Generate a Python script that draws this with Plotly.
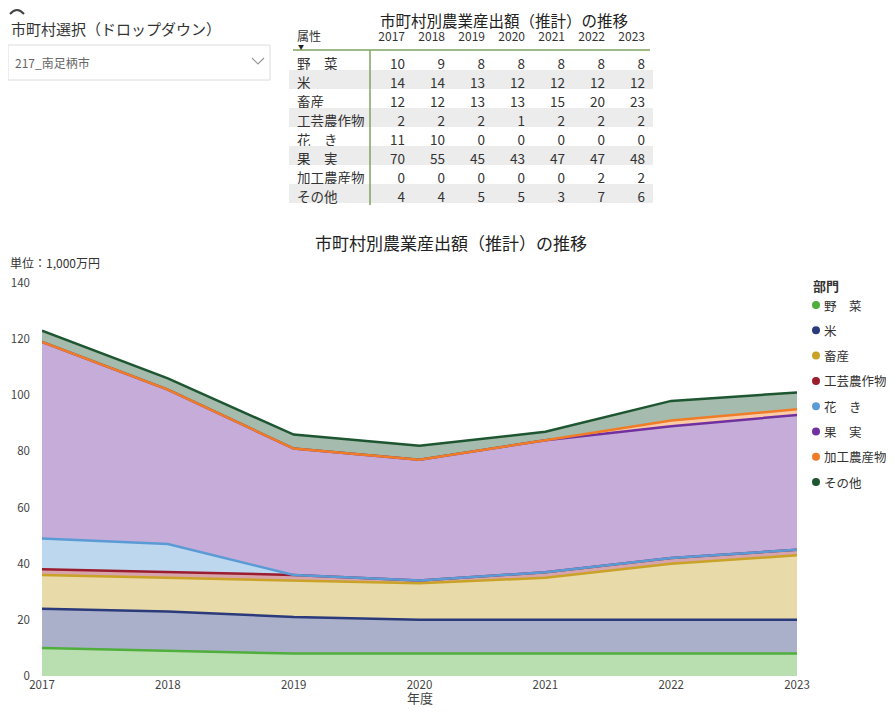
import plotly.graph_objects as go

# --- data (値は参照画像の表から) ---
years = [2017, 2018, 2019, 2020, 2021, 2022, 2023]
categories = ["野　菜", "米", "畜産", "工芸農作物", "花　き", "果　実", "加工農産物", "その他"]

yasai = [10, 9, 8, 8, 8, 8, 8]
kome = [14, 14, 13, 12, 12, 12, 12]
chikusan = [12, 12, 13, 13, 15, 20, 23]
kougei = [2, 2, 2, 1, 2, 2, 2]
kaki = [11, 10, 0, 0, 0, 0, 0]
kajitsu = [70, 55, 45, 43, 47, 47, 48]
kakou = [0, 0, 0, 0, 0, 2, 2]
sonota = [4, 4, 5, 5, 3, 7, 6]

series = [yasai, kome, chikusan, kougei, kaki, kajitsu, kakou, sonota]
colors = ["#4fae3c", "#2b3a7a", "#c9a227", "#9b1c2e", "#5b9bd5", "#7030a0", "#f07c28", "#1e5631"]

city = "217_南足柄市"

# page body has an 8px margin, so the figure is a bit smaller and offset
OFF = 8
W, H = 894 - 2 * OFF, 716 - 2 * OFF
FONT = "Noto Sans CJK JP, Noto Sans, sans-serif"


def fx(p):
    return (p - OFF) / W


def fy(p):
    return 1 - (p - OFF) / H


def rgba(hexc, a):
    h = hexc.lstrip("#")
    r, g, b = int(h[0:2], 16), int(h[2:4], 16), int(h[4:6], 16)
    return f"rgba({r},{g},{b},{a})"


fig = go.Figure()

# stacked areas
for name, vals, col in zip(categories, series, colors):
    fig.add_trace(go.Scatter(
        x=years, y=vals, name=name, stackgroup="one", mode="lines",
        line=dict(color=col, width=2.5), fillcolor=rgba(col, 0.4),
        showlegend=False,
    ))

# table
row_fill = ["white" if i % 2 == 0 else "#ececec" for i in range(len(categories))]
table_cols = [categories] + [[s[j] for s in series] for j in range(len(years))]
fig.add_trace(go.Table(
    domain=dict(x=[fx(289), fx(653)], y=[fy(215), fy(24)]),
    columnwidth=[84] + [40] * len(years),
    header=dict(
        values=["属性"] + [str(y) for y in years],
        align=["left"] + ["right"] * len(years),
        height=27,
        fill=dict(color="white"),
        line=dict(color="rgba(0,0,0,0)", width=0),
        font=dict(family=FONT, size=12, color="#333333"),
    ),
    cells=dict(
        values=table_cols,
        align=["left"] + ["right"] * len(years),
        height=19,
        fill=dict(color=[row_fill] * (len(years) + 1)),
        line=dict(color="rgba(0,0,0,0)", width=0),
        font=dict(family=FONT, size=13.5, color="#333333"),
    ),
))

shapes = [
    # table lines
    dict(type="line", xref="paper", yref="paper", x0=fx(293), x1=fx(650), y0=fy(50), y1=fy(50),
         line=dict(color="#7fa35f", width=1.5)),
    dict(type="line", xref="paper", yref="paper", x0=fx(370), x1=fx(370), y0=fy(50), y1=fy(205),
         line=dict(color="#7fa35f", width=1.5)),
    # dropdown box
    dict(type="rect", xref="paper", yref="paper", x0=fx(8), x1=fx(270), y0=fy(45), y1=fy(80),
         line=dict(color="#dcdcdc", width=1), fillcolor="white"),
    dict(type="path", xref="paper", yref="paper",
         path=f"M {fx(252)} {fy(58)} L {fx(258)} {fy(64)} L {fx(264)} {fy(58)}",
         line=dict(color="#999999", width=1.2)),
    # top-left arc
    dict(type="path", xref="paper", yref="paper",
         path=f"M {fx(10)} {fy(14)} Q {fx(17)} {fy(6)} {fx(24)} {fy(14)}",
         line=dict(color="#444444", width=2)),
]

annotations = [
    dict(text="市町村選択（ドロップダウン）", x=fx(9), y=fy(28), xanchor="left", yanchor="middle",
         font=dict(family=FONT, size=15, color="#333333")),
    dict(text=city, x=fx(13), y=fy(63), xanchor="left", yanchor="middle",
         font=dict(family=FONT, size=12, color="#666666")),
    dict(text="市町村別農業産出額（推計）の推移", x=fx(504), y=fy(8), xanchor="center", yanchor="top",
         font=dict(family=FONT, size=15.5, color="#222222"), borderpad=0),
    dict(text="▼", x=fx(301), y=fy(46.5), xanchor="center", yanchor="middle",
         font=dict(family=FONT, size=6, color="#222222")),
    dict(text="市町村別農業産出額（推計）の推移", x=fx(451), y=fy(243), xanchor="center", yanchor="middle",
         font=dict(family=FONT, size=17, color="#222222")),
    dict(text="単位：1,000万円", x=fx(8), y=fy(262), xanchor="left", yanchor="middle",
         font=dict(family=FONT, size=12, color="#333333")),
    dict(text="年度", x=fx(420), y=fy(708), xanchor="center", yanchor="bottom",
         font=dict(family=FONT, size=13, color="#444444"), borderpad=0),
    dict(text="<b>部門</b>", x=fx(811), y=fy(285), xanchor="left", yanchor="middle",
         font=dict(family=FONT, size=13, color="#333333")),
]

# legend built from categories
for i, (name, col) in enumerate(zip(categories, colors)):
    cy = 305 + i * 25.3
    shapes.append(dict(type="circle", xref="paper", yref="paper",
                       x0=fx(812), x1=fx(820), y0=fy(cy - 4), y1=fy(cy + 4),
                       fillcolor=col, line=dict(width=0)))
    annotations.append(dict(text=name, x=fx(822), y=fy(cy), xanchor="left", yanchor="middle",
                            font=dict(family=FONT, size=12.5, color="#333333")))

for a in annotations:
    a.update(xref="paper", yref="paper", showarrow=False)

fig.update_layout(
    width=W, height=H,
    margin=dict(l=0, r=0, t=0, b=0),
    paper_bgcolor="white", plot_bgcolor="white",
    font=dict(family=FONT, color="#555555"),
    showlegend=False,
    shapes=shapes,
    annotations=annotations,
    xaxis=dict(
        domain=[fx(42), fx(797)], range=[2017, 2023], tickvals=years,
        showgrid=False, zeroline=False, showline=False, automargin=False,
        ticklabelstandoff=0,
        tickfont=dict(size=11.5, color="#444444"),
    ),
    yaxis=dict(
        domain=[fy(676), fy(283)], range=[0, 140], dtick=20,
        showgrid=False, zeroline=False, showline=False, automargin=False,
        ticklabelstandoff=11,
        tickfont=dict(size=11.5, color="#444444"),
    ),
)

fig.write_html("out.html")
